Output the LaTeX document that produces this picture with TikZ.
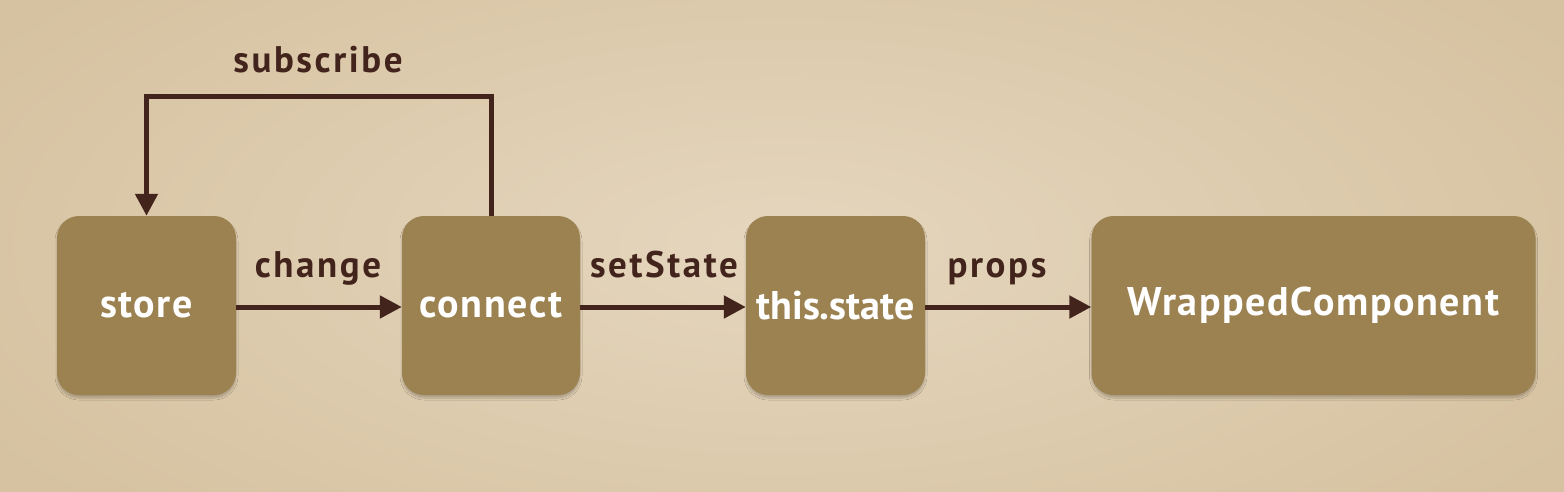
\documentclass[tikz,border=0pt]{standalone}
\usepackage{fontspec}
\setmainfont{PT Sans}
\newfontfamily\boxfont{PT Sans}[LetterSpace=4]
\newfontfamily\boxfontnarrow{PT Sans}
\newfontfamily\lblfont{PT Sans}[LetterSpace=7]
\usetikzlibrary{arrows.meta,shadows.blur}
\definecolor{bgmid}{RGB}{229,214,190}
\definecolor{bgedge}{RGB}{214,194,160}
\definecolor{boxfill}{RGB}{155,130,80}
\definecolor{arrowcol}{RGB}{66,36,28}
\tikzset{
  box/.style={draw=none, fill=boxfill, rounded corners=22pt, minimum height=179pt,
    text=white, font=\boxfont\fontsize{40}{46}\selectfont\bfseries, inner sep=0pt,
    blur shadow={shadow xshift=0pt, shadow yshift=-3pt, shadow opacity=22, shadow blur steps=6}},
  flow/.style={draw=arrowcol, line width=5pt, -{Triangle[length=22pt,width=22pt]}},
  lbl/.style={text=arrowcol, font=\lblfont\fontsize{37}{42}\selectfont\bfseries, inner sep=0pt, anchor=base}
}
\begin{document}
\begin{tikzpicture}[x=1pt,y=-1pt]
\useasboundingbox (0,0) rectangle (1564,492);
\shade[inner color=bgmid, outer color=bgedge] (-150,-150) rectangle (1714,642);
\node[box, minimum width=179pt] (store) at (146.5,305.5) {store};
\node[box, minimum width=178pt] (connect) at (491,305.5) {connect};
\node[box, minimum width=179pt, font=\boxfontnarrow\fontsize{40}{46}\selectfont\bfseries] (state) at (835.5,305.5) {this.state};
\node[box, minimum width=444pt] (wrapped) at (1313.5,305.5) {WrappedComponent};
\coordinate (looptop) at (300,97);
\draw[flow] (store.east |- 0,307) -- (connect.west |- 0,307);
\draw[flow] (connect.east |- 0,307) -- (state.west |- 0,307);
\draw[flow] (state.east |- 0,307) -- (wrapped.west |- 0,307);
\draw[flow] (connect.north) -- (connect.north |- looptop) -| (store.north);
\node[lbl] (lsub) at (318,73) {subscribe};
\node[lbl] (lchange) at (318,277) {change};
\node[lbl] (lset) at (664,277) {setState};
\node[lbl] (lprops) at (997,277) {props};
\end{tikzpicture}
\end{document}
